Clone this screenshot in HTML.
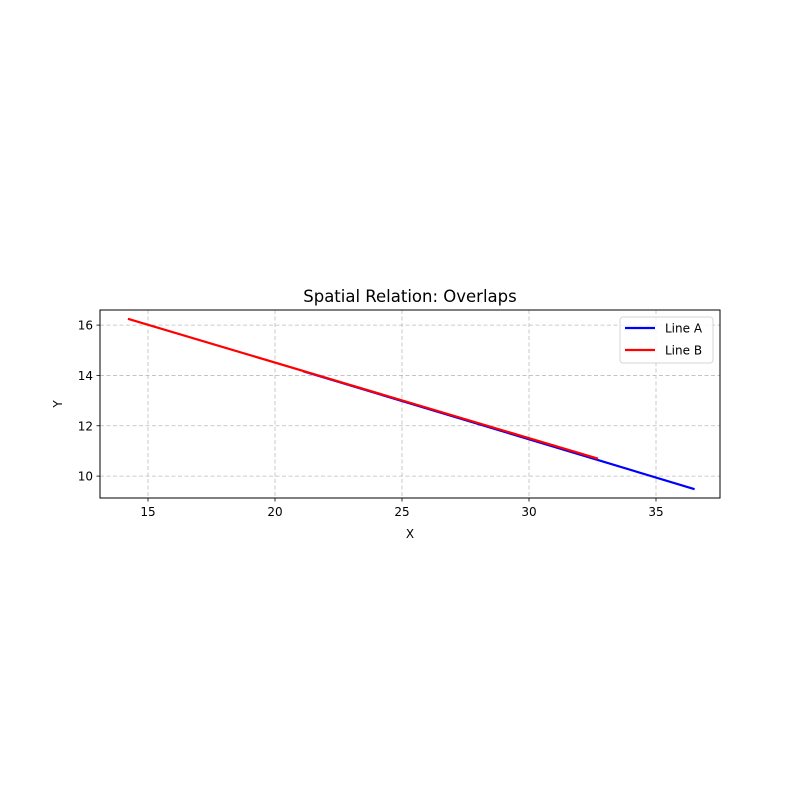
<!DOCTYPE html>
<html><head><meta charset="utf-8"><style>
body{margin:0;background:#fff;font-family:"Liberation Sans","DejaVu Sans",sans-serif}
svg text{font-family:"DejaVu Sans","Liberation Sans",sans-serif;font-size:12px;fill:#000}
</style></head><body>
<svg id="c" width="800" height="800" xmlns="http://www.w3.org/2000/svg"></svg>
<script>
const seriesNames=["Line A","Line B"];
const seriesColors=["#0000ff","#ff0000"];
const lineAX=[21.1,36.52];
const lineAY=[14.17,9.48];
const lineBX=[14.21,32.72];
const lineBY=[16.25,10.69];
const xTicks=[15,20,25,30,35];
const yTicks=[10,12,14,16];
const L=100,R=720,T=310,B=498;
const xMin=13.11,xMax=37.52,yMin=9.13,yMax=16.6;
const sx=v=>L+(v-xMin)/(xMax-xMin)*(R-L);
const sy=v=>B-(v-yMin)/(yMax-yMin)*(B-T);
const svg=document.getElementById('c');
const NS="http://www.w3.org/2000/svg";
function mk(t,a,p){const e=document.createElementNS(NS,t);for(const k in a)e.setAttribute(k,a[k]);(p||svg).appendChild(e);return e;}
let e;
e=mk('text',{x:410,y:302,'text-anchor':'middle'});e.textContent="Spatial Relation: Overlaps";e.style.fontSize='16.5px';


xTicks.forEach(v=>{const x=sx(v);
 e=mk('line',{x1:x,x2:x,y1:T,y2:B,stroke:'#b0b0b0','stroke-width':0.8,'stroke-dasharray':'4,2.5','opacity':0.85});
 
 
 mk('line',{x1:x,x2:x,y1:B,y2:B+3.5,stroke:'#000','stroke-width':0.8});
 e=mk('text',{x:x,y:B+18,'text-anchor':'middle'});e.textContent=v;
 
 
});
yTicks.forEach(v=>{const y=sy(v);
 e=mk('line',{x1:L,x2:R,y1:y,y2:y,stroke:'#b0b0b0','stroke-width':0.8,'stroke-dasharray':'4,2.5','opacity':0.85});
 
 
 mk('line',{x1:L-3.5,x2:L,y1:y,y2:y,stroke:'#000','stroke-width':0.8});
 e=mk('text',{x:L-7,y:y+4.5,'text-anchor':'end'});e.textContent=v;
 
 
});
const data=[[lineAX,lineAY],[lineBX,lineBY]];
data.forEach((d,i)=>{
 e=mk('polyline',{points:d[0].map((x,j)=>sx(x)+','+sy(d[1][j])).join(' '),fill:'none',stroke:seriesColors[i],'stroke-width':2.2});
 
 
});
e=mk('rect',{x:L,y:T,width:R-L,height:B-T,fill:'none',stroke:'#000','stroke-width':1});


e=mk('text',{x:410,y:538,'text-anchor':'middle'});e.textContent="X";


e=mk('text',{x:62,y:404,'text-anchor':'middle',transform:'rotate(-90 62 404)'});e.textContent="Y";


const lg=mk('g',{});


mk('rect',{x:620,y:317,width:93,height:46,rx:3,fill:'#fff',stroke:'#ccc','stroke-width':1,opacity:0.8},lg);
seriesNames.forEach((n,i)=>{const y=328+i*22;
 const g=mk('g',{},lg);
 
 
 mk('line',{x1:625,x2:655,y1:y,y2:y,stroke:seriesColors[i],'stroke-width':2.2},g);
 const t=mk('text',{x:665,y:y+4.5},g);t.textContent=n;
});
</script>
</body></html>
